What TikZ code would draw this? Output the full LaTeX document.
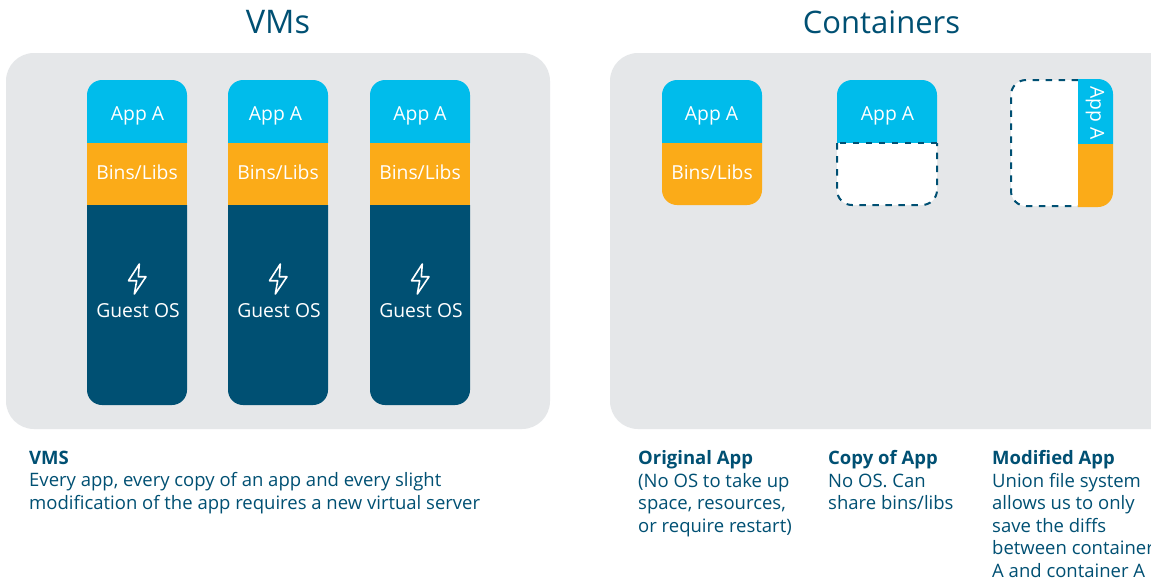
\documentclass[tikz,border=0pt]{standalone}
\usepackage{fontspec}
\setmainfont{Open Sans}
\definecolor{panelgray}{HTML}{E5E7E9}
\definecolor{appblue}{HTML}{00BCEB}
\definecolor{binorange}{HTML}{FBAB18}
\definecolor{osnavy}{HTML}{005073}
\tikzset{
  whitetext/.style={text=white,font=\fontsize{19.3}{22}\selectfont,inner sep=0pt},
  title/.style={text=osnavy,font=\fontsize{31}{36}\selectfont,inner sep=0pt},
  caption/.style={text=osnavy,font=\fontsize{18.5}{22.5}\selectfont,inner sep=0pt,anchor=north west,align=left},
  bolt/.style={draw=white,line width=1.6pt,line join=round},
  dashline/.style={draw=osnavy,line width=2pt,dash pattern=on 6.5pt off 6.5pt},
  round15/.style={rounded corners=15pt}
}
\newcommand{\vmstack}[3]{% left x, text centre x, name
  \fill[appblue,round15] (#1,143) -- (#1,80) -- ({#1+100},80) -- ({#1+100},143);
  \fill[binorange] (#1,143) rectangle ({#1+100},205);
  \fill[osnavy,round15] (#1,205) -- (#1,405) -- ({#1+100},405) -- ({#1+100},205);
  \node[whitetext] (#3app) at (#2,115.5) {App A};
  \node[whitetext] (#3bins) at ({#1+50},172.5) {Bins/Libs};
  \node[whitetext] (#3os) at ({#1+51},310.5) {Guest OS};
  \draw[bolt] ({#1+52.3},264) -- ({#1+41.5},280.7) -- ({#1+49.7},280.7) -- ({#1+47.3},294) -- ({#1+59},276.7) -- ({#1+51.3},276.7) -- cycle;
}
\begin{document}
\begin{tikzpicture}[x=1pt,y=-1pt]
\useasboundingbox (0,0) rectangle (1151,579);
\clip (0,0) rectangle (1151,579);
\fill[white] (0,0) rectangle (1151,579);
\node[title,font=\fontsize{32.5}{36}\selectfont] (vmstitle) at (278,22) {VMs};
\node[title] (ctitle) at (881.5,22) {Containers};
\fill[panelgray,rounded corners=28pt] (6,53) rectangle (550,429);
\fill[panelgray,rounded corners=28pt] (610,53) rectangle (1180,429);
\vmstack{87}{137.5}{a}
\vmstack{228}{275.5}{b}
\vmstack{370}{420}{c}
% original
\fill[appblue,round15] (662,143) -- (662,80) -- (762,80) -- (762,143);
\fill[binorange,round15] (662,143) -- (662,205) -- (762,205) -- (762,143);
\node[whitetext] (oapp) at (711.5,115.5) {App A};
\node[whitetext] (obins) at (712,172.5) {Bins/Libs};
% copy
\fill[appblue,round15] (837,143) -- (837,80) -- (937,80) -- (937,143);
\fill[white,round15] (837,143) -- (837,205) -- (937,205) -- (937,143);
\draw[dashline] (937,143) -- (837,143);
\draw[dashline,round15] (837,143) -- (837,205) -- (937,205) -- (937,143);
\node[whitetext] (capp) at (887.5,115.5) {App A};
% modified
\fill[white,round15] (1078,80) -- (1011,80) -- (1011,206) -- (1078,206);
\draw[dashline,round15] (1078,80) -- (1011,80) -- (1011,206) -- (1078,206);
\fill[appblue] (1078,144) -- (1078,79) [rounded corners=15pt] -- (1113,79) [sharp corners] -- (1113,144) -- cycle;
\fill[binorange] (1078,144) -- (1078,207) [rounded corners=15pt] -- (1113,207) [sharp corners] -- (1113,144) -- cycle;
\node[whitetext,rotate=-90] (mapp) at (1095,113) {App A};
% captions
\node[caption] (vmscap) at (29,450.5) {\textbf{VMS}\\Every app, every copy of an app and every slight\\modification of the app requires a new virtual server};
\node[caption] (ocap) at (638,450.5) {\textbf{Original App}\\(No OS to take up\\space, resources,\\or require restart)};
\node[caption] (ccap) at (828,450.5) {\textbf{Copy of App}\\No OS. Can\\share bins/libs};
\node[caption] (mcap) at (992,450.5) {\textbf{Modified App}\\Union file system\\allows us to only\\save the diffs\\between container\\A and container A};
\end{tikzpicture}
\end{document}
